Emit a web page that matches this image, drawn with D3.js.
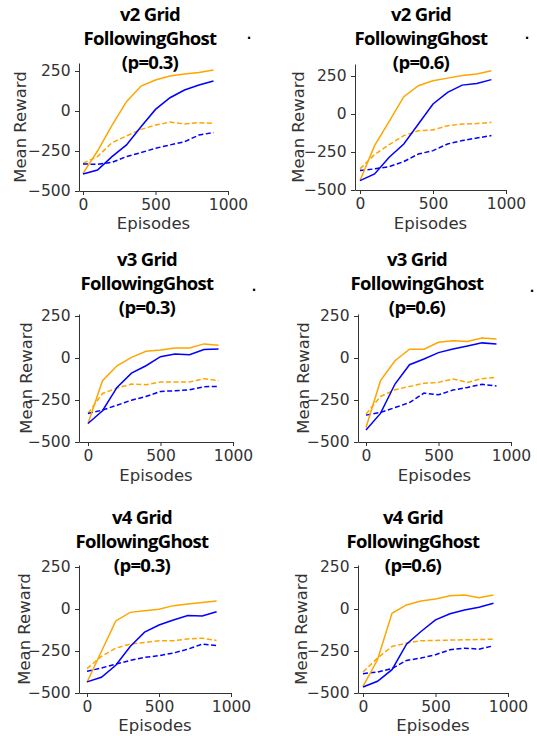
<!DOCTYPE html>
<html>
<head>
<meta charset="utf-8">
<script src="https://cdn.jsdelivr.net/npm/d3@7"></script>
<style>
  body { margin: 0; background: #fff; }
  svg { display: block; }
  .tick-lbl { font-family: "DejaVu Sans", sans-serif; font-size: 15.5px; fill: #333; }
  .lbl { font-family: "DejaVu Sans", sans-serif; font-size: 16.5px; fill: #333; }
  .ttl { font-family: "Open Sans", sans-serif; font-weight: bold; font-size: 18.5px; letter-spacing: -0.7px; fill: #000; }
</style>
</head>
<body>
<div id="my_dataviz"></div>
<script>
var width = 537,
    height = 736;

// episodes shared by every panel
var episodes = [0, 100, 200, 300, 400, 500, 600, 700, 800, 900];

var titles = [
  ["v2 Grid", "FollowingGhost", "(p=0.3)"],
  ["v2 Grid", "FollowingGhost", "(p=0.6)"],
  ["v3 Grid", "FollowingGhost", "(p=0.3)"],
  ["v3 Grid", "FollowingGhost", "(p=0.6)"],
  ["v4 Grid", "FollowingGhost", "(p=0.3)"],
  ["v4 Grid", "FollowingGhost", "(p=0.6)"]
];

var xTicks = [0, 500, 1000];
var yTicks = [-500, -250, 0, 250];

// mean reward per panel, one array per series
var orangeSolid = [
  [-390, -250, -90, 58, 156, 194, 219, 231, 240, 256],
  [-438, -208, -48, 114, 186, 219, 236, 254, 263, 285],
  [-390, -135, -46, 4, 40, 48, 60, 60, 84, 76],
  [-414, -135, -16, 52, 52, 94, 103, 98, 119, 113],
  [-436, -253, -71, -20, -10, -2, 20, 30, 39, 47],
  [-460, -302, -26, 24, 47, 59, 79, 83, 67, 83]
];
var blueSolid = [
  [-394, -369, -285, -212, -98, 10, 83, 131, 162, 187],
  [-438, -394, -285, -197, -66, 66, 142, 190, 201, 226],
  [-390, -314, -175, -90, -46, 8, 24, 20, 50, 54],
  [-428, -330, -155, -40, -6, 32, 54, 72, 90, 84],
  [-434, -406, -335, -223, -138, -95, -65, -39, -41, -16],
  [-464, -430, -361, -209, -134, -65, -28, -6, 10, 34]
];
var orangeDashed = [
  [-327, -285, -198, -156, -115, -88, -69, -81, -73, -77],
  [-361, -267, -201, -142, -110, -105, -77, -66, -63, -55],
  [-330, -211, -179, -155, -159, -143, -143, -143, -123, -135],
  [-334, -229, -189, -169, -151, -145, -125, -145, -123, -115],
  [-355, -282, -233, -209, -199, -189, -189, -178, -174, -187],
  [-375, -292, -223, -203, -189, -187, -185, -183, -182, -180]
];
var blueDashed = [
  [-331, -333, -321, -285, -260, -233, -212, -192, -150, -135],
  [-372, -361, -346, -313, -263, -241, -197, -175, -158, -142],
  [-330, -310, -281, -251, -229, -199, -195, -189, -171, -169],
  [-340, -324, -295, -265, -209, -219, -191, -175, -157, -167],
  [-371, -351, -328, -306, -288, -278, -262, -239, -209, -217],
  [-385, -375, -355, -306, -292, -272, -243, -233, -239, -219]
];

// where each panel sits on the page
var layout = [
  {spine: 79,  x0: 83,  x1: 228, yTop: 63,  y250: 71,  yBot: 191, cx: 150, tY: 15,  mrX: 20,  epY: 223, dot: [249, 35]},
  {spine: 355, x0: 360, x1: 506, yTop: 64,  y250: 76,  yBot: 190, cx: 421, tY: 15,  mrX: 298, epY: 223, dot: [527, 35]},
  {spine: 79,  x0: 88,  x1: 233, yTop: 314, y250: 316, yBot: 442, cx: 147, tY: 260, mrX: 26,  epY: 475, dot: [254, 287]},
  {spine: 358, x0: 366, x1: 511, yTop: 314, y250: 316, yBot: 442, cx: 417, tY: 260, mrX: 303, epY: 475, dot: [532, 288]},
  {spine: 79,  x0: 87,  x1: 231, yTop: 565, y250: 567, yBot: 693, cx: 142, tY: 518, mrX: 24,  epY: 725, dot: null},
  {spine: 358, x0: 363, x1: 508, yTop: 565, y250: 567, yBot: 693, cx: 413, tY: 518, mrX: 301, epY: 725, dot: null}
];

var series = [
  {data: orangeDashed, color: "#ffa500", dash: "5,2.5"},
  {data: blueDashed,   color: "#0000ff", dash: "5,2.5"},
  {data: orangeSolid,  color: "#ffa500", dash: null},
  {data: blueSolid,    color: "#0000ff", dash: null}
];

var svg = d3.select("#my_dataviz")
  .append("svg")
    .attr("width", width)
    .attr("height", height);

layout.forEach(function(p, i) {
  var g = svg.append("g");

  // x starts a little left of 0, y ends a little above 250
  var pxPerX = (p.x1 - p.x0) / 1000;
  var x = d3.scaleLinear()
    .domain([-(p.x0 - p.spine) / pxPerX, 1000])
    .range([p.spine, p.x1]);
  var pxPerY = (p.yBot - p.y250) / 750;
  var y = d3.scaleLinear()
    .domain([-500, 250 + (p.y250 - p.yTop) / pxPerY])
    .range([p.yBot, p.yTop]);

  var xAxis = g.append("g")
    .attr("transform", "translate(0," + p.yBot + ")")
    .call(d3.axisBottom(x).tickValues(xTicks).tickFormat(d3.format("d")).tickSize(4).tickSizeOuter(0));
  var yAxis = g.append("g")
    .attr("transform", "translate(" + p.spine + ",0)")
    .call(d3.axisLeft(y).tickValues(yTicks).tickFormat(d3.format("d")).tickSize(4).tickSizeOuter(0));

  [xAxis, yAxis].forEach(function(a) {
    a.attr("font-family", null).attr("font-size", null);
    a.selectAll("path, line").attr("stroke", "#333").attr("stroke-width", 1);
    a.selectAll("text").attr("fill", null).attr("class", "tick-lbl");
  });
  xAxis.selectAll("text").attr("dy", "0.95em").attr("y", 4);
  yAxis.selectAll("text").attr("x", -8.5);

  var line = d3.line()
    .x(function(d, j) { return x(episodes[j]); })
    .y(function(d) { return y(d); });

  series.forEach(function(s) {
    g.append("path")
      .attr("d", line(s.data[i]))
      .attr("fill", "none")
      .attr("stroke", s.color)
      .attr("stroke-width", 1.5)
      .attr("stroke-dasharray", s.dash);
  });

  // title, three centred lines
  g.selectAll(".ttl")
    .data(titles[i])
    .enter()
    .append("text")
      .attr("class", "ttl")
      .attr("x", p.cx)
      .attr("y", function(d, k) { return p.tY + k * 24; })
      .attr("dy", "0.35em")
      .attr("text-anchor", "middle")
      .text(function(d) { return d; });

  g.append("text")
    .attr("class", "lbl")
    .attr("transform", "translate(" + p.mrX + "," + ((p.yTop + p.yBot) / 2) + ") rotate(-90)")
    .attr("dy", "0.35em")
    .attr("text-anchor", "middle")
    .text("Mean Reward");

  g.append("text")
    .attr("class", "lbl")
    .attr("x", (p.spine + p.x1) / 2)
    .attr("y", p.epY)
    .attr("dy", "0.35em")
    .attr("text-anchor", "middle")
    .text("Episodes");

  if (p.dot) {
    g.append("text")
      .attr("x", p.dot[0])
      .attr("y", p.dot[1])
      .attr("dy", "0.35em")
      .attr("text-anchor", "middle")
      .style("font-family", "DejaVu Sans")
      .style("font-weight", "bold")
      .style("font-size", "12px")
      .text(".");
  }
});
</script>
</body>
</html>
